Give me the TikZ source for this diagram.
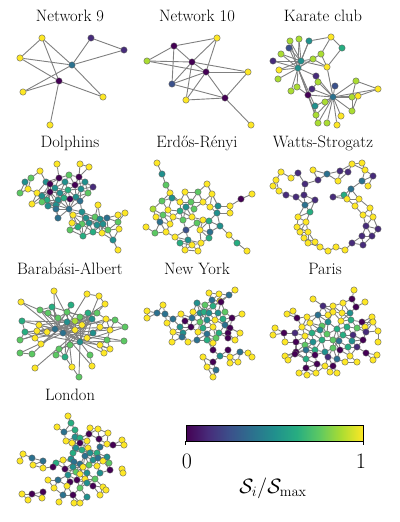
\documentclass[tikz,border=0pt]{standalone}
\usepackage{amsmath,amssymb}
\usepackage{xcolor}
\usepackage{tikz}
\definecolor{vpur}{RGB}{68,1,84}
\definecolor{vind}{RGB}{71,44,122}
\definecolor{vblu}{RGB}{59,81,139}
\definecolor{vste}{RGB}{44,113,142}
\definecolor{vtea}{RGB}{33,144,141}
\definecolor{vgrn}{RGB}{39,173,129}
\definecolor{vlgr}{RGB}{92,200,99}
\definecolor{vlim}{RGB}{170,220,50}
\definecolor{vyel}{RGB}{253,231,37}
\definecolor{linkgray}{RGB}{128,128,128}
\definecolor{rimgray}{RGB}{95,95,95}
\usetikzlibrary{positioning}
\pgfdeclarelayer{bg}
\pgfsetlayers{bg,main}
\pgfdeclarehorizontalshading{viridis}{100bp}{color(0bp)=(vpur); color(25bp)=(vpur);
  color(31.25bp)=(vind); color(37.5bp)=(vblu); color(43.75bp)=(vste); color(50bp)=(vtea);
  color(56.25bp)=(vgrn); color(62.5bp)=(vlgr); color(68.75bp)=(vlim); color(75bp)=(vyel);
  color(100bp)=(vyel)}
\tikzset{
  vtx/.style={circle, draw=rimgray, line width=0.4pt, inner sep=0pt, minimum size=6.4pt},
  link/.style={draw=linkgray, line width=0.9pt},
  title/.style={anchor=base, font=\fontsize{16.5}{20}\selectfont},
  cbar/.style={draw=black, line width=0.8pt, shading=viridis, minimum width=177pt, minimum height=16pt, inner sep=0pt},
}
\newcommand{\netnodes}[2]{%
  \foreach \x/\y/\clr [count=\i] in #2 {\node[vtx, fill=\clr] (#1-\i) at (\x,\y) {};}}
\newcommand{\netlinks}[3]{%
  \begin{pgfonlayer}{bg}
  \foreach \x/\y/\clr [count=\i] in #2 {
    \foreach \xb/\yb/\tone [count=\j] in #2 {
      \ifnum\j>\i
        \pgfmathsetmacro{\dlen}{veclen(\xb-\x,\yb-\y)}
        \ifdim\dlen pt<#3pt \draw[link] (#1-\i) -- (#1-\j);\fi
      \fi
    }
  }
  \end{pgfonlayer}}

\def\karate{290/41/vlim, 299/39/vlim, 309/41/vtea, 331/37/vyel, 289/48/vblu, 281/54/vlim, 342/48/vgrn, 321/54/vlim, 273/61/vind, 301/61/vtea, 313/59/vlim, 298/68/vtea, 279/70/vyel, 327/67/vyel, 316/76/vind, 278/79/vlim, 318/82/vlim, 335/86/vblu, 356/81/vlim, 297/87/vlim, 312/89/vind, 291/91/vlim, 378/89/vyel, 333/97/vste, 352/97/vlim, 358/96/vyel, 308/95/vpur, 325/102/vlim, 315/106/vtea, 352/111/vlim, 316/115/vlim, 341/116/vyel, 318/123/vlim, 327/123/vlim, 337/125/vyel}
\def\dolphins{57/164/vyel, 80/164/vyel, 89/167/vyel, 40/171/vyel, 25/182/vtea, 31/178/vlgr, 46/182/vtea, 59/178/vpur, 69/175/vlgr, 79/177/vpur, 50/184/vpur, 65/182/vtea, 75/185/vpur, 85/182/vtea, 93/187/vind, 28/189/vyel, 20/193/vlgr, 37/193/vyel, 50/192/vpur, 55/188/vtea, 60/193/vtea, 68/190/vgrn, 81/189/vtea, 88/193/vlgr, 42/196/vtea, 47/200/vgrn, 58/200/vtea, 64/198/vgrn, 70/199/vpur, 76/197/vtea, 32/204/vyel, 42/202/vlgr, 56/205/vtea, 48/206/vtea, 80/201/vste, 98/205/vyel, 56/209/vste, 69/209/vste, 82/212/vtea, 58/218/vste, 73/215/vyel, 86/218/vtea, 95/217/vlgr, 100/219/vtea, 107/218/vste, 118/215/vyel, 125/213/vyel, 72/223/vyel, 82/224/vlgr, 89/223/vtea, 97/225/vtea, 103/224/vtea, 118/222/vlgr, 70/230/vlgr, 78/227/vgrn, 93/232/vgrn, 108/230/vlgr, 119/229/vyel, 83/236/vgrn, 102/233/vyel, 113/240/vtea, 118/250/vyel}
\def\erdos{157/163/vyel, 162/174/vtea, 166/185/vlgr, 170/193/vyel, 207/184/vyel, 185/192/vyel, 198/192/vlgr, 212/194/vyel, 162/201/vlgr, 172/198/vtea, 180/202/vyel, 191/202/vlgr, 203/202/vyel, 252/194/vyel, 241/199/vpur, 153/209/vlim, 168/210/vyel, 180/211/vgrn, 186/207/vtea, 194/209/vlgr, 210/207/vyel, 218/206/vtea, 230/206/vyel, 156/217/vyel, 163/215/vlgr, 173/217/vyel, 183/220/vlgr, 192/217/vyel, 203/220/vyel, 217/213/vtea, 230/213/vyel, 146/227/vyel, 160/222/vste, 170/224/vyel, 197/223/vlgr, 209/221/vgrn, 220/226/vtea, 155/233/vlgr, 166/232/vyel, 186/230/vblu, 200/230/vyel, 210/232/vste, 229/235/vyel, 175/237/vyel, 188/240/vtea, 209/238/vgrn, 180/243/vgrn, 192/245/vyel, 201/243/vyel, 237/243/vgrn, 185/250/vyel, 198/251/vyel, 247/251/vyel}
\def\watts{281/172/vyel, 276/180/vyel, 273/186/vyel, 279/191/vyel, 291/178/vyel, 298/173/vind, 286/195/vind, 296/197/vind, 305/184/vind, 304/195/vind, 313/170/vyel, 318/180/vind, 327/174/vste, 315/200/vind, 305/205/vste, 310/212/vgrn, 340/171/vind, 338/181/vyel, 348/172/vind, 352/164/vyel, 362/163/vyel, 365/170/vyel, 373/176/vind, 362/181/vste, 368/186/vyel, 351/189/vste, 344/195/vgrn, 333/197/vind, 359/199/vyel, 347/199/vyel, 355/206/vyel, 370/208/vyel, 363/215/vyel, 373/217/vyel, 366/226/vind, 378/229/vind, 362/236/vind, 372/236/vind, 363/245/vind, 352/243/vind, 345/250/vyel, 336/247/vyel, 328/251/vyel, 320/247/vyel, 315/242/vyel, 308/243/vyel, 304/238/vyel, 300/232/vyel, 308/232/vyel, 297/227/vyel, 306/222/vyel, 298/217/vyel}
\def\barabasi{54/291/vyel, 87/294/vyel, 99/296/vyel, 21/302/vyel, 105/304/vyel, 52/307/vgrn, 71/305/vgrn, 40/310/vlgr, 48/313/vlgr, 67/312/vlgr, 88/313/vgrn, 97/313/vlgr, 58/318/vlgr, 80/317/vlgr, 22/321/vgrn, 39/325/vyel, 67/322/vtea, 75/321/vlim, 92/319/vtea, 106/319/vyel, 115/320/vlgr, 55/329/vste, 63/333/vste, 37/331/vyel, 82/325/vyel, 100/327/vyel, 25/332/vgrn, 47/332/vyel, 75/330/vyel, 93/333/vtea, 110/330/vyel, 125/327/vlgr, 20/340/vlgr, 35/338/vyel, 80/342/vtea, 87/338/vyel, 107/340/vlgr, 124/341/vlgr, 41/344/vyel, 59/349/vlgr, 70/345/vlgr, 100/345/vyel, 110/349/vyel, 20/353/vlgr, 32/354/vlgr, 56/355/vlgr, 65/357/vgrn, 90/355/vlgr, 104/353/vyel, 35/368/vyel, 72/367/vyel, 92/366/vyel, 79/377/vlgr}
\def\newyork{209/293/vyel, 219/294/vyel, 235/290/vyel, 229/295/vste, 212/300/vste, 220/301/vyel, 197/303/vtea, 205/305/vlgr, 213/306/vgrn, 221/302/vpur, 163/305/vyel, 157/313/vste, 147/311/vyel, 147/318/vyel, 165/314/vste, 181/314/vyel, 173/319/vste, 167/323/vyel, 193/312/vyel, 200/313/vtea, 204/312/vgrn, 209/313/vtea, 218/313/vtea, 225/312/vlgr, 242/314/vyel, 185/321/vpur, 192/318/vste, 200/322/vlgr, 207/320/vtea, 215/320/vyel, 223/319/vgrn, 232/318/vpur, 180/327/vtea, 191/327/vpur, 203/328/vgrn, 213/327/vyel, 225/325/vste, 230/328/vpur, 173/332/vyel, 183/333/vtea, 198/332/vyel, 207/334/vste, 219/333/vgrn, 228/333/vpur, 240/333/vyel, 182/337/vste, 197/340/vste, 207/340/vgrn, 216/338/vlgr, 228/338/vpur, 172/342/vyel, 188/342/vyel, 213/343/vyel, 235/340/vyel, 213/350/vpur, 228/350/vpur, 240/352/vste, 220/356/vtea, 230/357/vyel, 248/353/vyel, 252/357/vyel, 203/357/vyel, 213/362/vpur, 230/363/vyel, 238/362/vyel, 207/367/vyel, 216/370/vste, 213/377/vyel}
\def\paris{354/290/vyel, 352/299/vpur, 313/299/vyel, 323/306/vind, 333/306/vyel, 343/303/vyel, 365/302/vyel, 356/307/vpur, 333/312/vyel, 342/313/vyel, 318/315/vste, 328/315/vyel, 350/313/vtea, 293/311/vyel, 287/314/vyel, 297/318/vpur, 307/317/vyel, 328/322/vtea, 341/321/vyel, 351/320/vgrn, 362/322/vpur, 372/317/vyel, 373/322/vyel, 365/327/vyel, 310/323/vyel, 322/326/vlgr, 347/327/vgrn, 357/328/vlgr, 302/327/vyel, 320/330/vtea, 337/329/vgrn, 275/328/vyel, 273/335/vyel, 284/333/vpur, 295/333/vind, 312/333/vgrn, 305/336/vyel, 327/334/vlgr, 343/335/vgrn, 353/335/vind, 366/332/vind, 378/331/vyel, 296/342/vpur, 313/342/vtea, 322/340/vgrn, 333/340/vlgr, 339/341/vste, 352/341/vtea, 363/340/vpur, 378/342/vyel, 285/342/vyel, 305/345/vlgr, 333/348/vlgr, 348/347/vgrn, 357/347/vind, 296/352/vpur, 306/350/vste, 315/350/vgrn, 325/352/vtea, 340/350/vpur, 285/356/vyel, 295/354/vpur, 306/359/vgrn, 315/355/vpur, 328/357/vind, 337/359/vste, 350/356/vyel, 366/353/vpur, 377/355/vyel, 373/360/vyel, 288/360/vyel, 317/364/vpur, 325/366/vyel, 333/366/vpur, 345/362/vyel, 357/362/vyel, 306/368/vpur, 299/373/vyel, 307/375/vyel, 330/372/vyel, 337/373/vyel, 316/373/vyel}
\def\london{68/416/vyel, 71/423/vgrn, 57/427/vyel, 64/432/vste, 75/430/vgrn, 90/428/vyel, 98/429/vyel, 89/434/vpur, 108/433/vyel, 75/437/vtea, 80/438/vgrn, 66/441/vyel, 72/443/vyel, 80/443/vpur, 87/441/vyel, 99/439/vpur, 100/447/vste, 107/444/vyel, 113/445/vpur, 122/440/vyel, 124/445/vyel, 76/448/vtea, 82/450/vgrn, 88/448/vyel, 73/453/vgrn, 90/453/vtea, 97/453/vgrn, 107/457/vtea, 23/454/vyel, 20/461/vyel, 32/458/vste, 43/461/vste, 56/463/vgrn, 63/460/vyel, 71/459/vtea, 74/462/vste, 80/464/vste, 85/456/vste, 93/460/vtea, 98/458/vste, 103/461/vyel, 109/463/vlgr, 33/465/vyel, 43/468/vyel, 53/467/vpur, 65/469/vpur, 73/467/vtea, 83/467/vyel, 89/465/vlgr, 97/466/vyel, 110/470/vpur, 122/469/vyel, 123/473/vyel, 76/472/vlgr, 87/473/vtea, 100/473/vtea, 68/475/vtea, 80/474/vyel, 48/480/vyel, 58/480/vste, 70/482/vpur, 77/480/vpur, 85/479/vyel, 95/479/vlgr, 67/486/vyel, 80/488/vlgr, 87/483/vtea, 93/486/vpur, 103/487/vyel, 106/490/vyel, 100/495/vyel, 54/488/vyel, 43/492/vpur, 32/494/vpur, 22/494/vyel, 28/500/vyel, 42/498/vyel, 63/495/vste, 73/495/vpur, 87/497/vtea, 59/502/vyel, 74/503/vyel, 80/503/vyel}

\begin{document}
\begin{tikzpicture}[x=1pt, y=-1pt]
\useasboundingbox (0,0) rectangle (399,522);

% titles
\foreach \name/\cx/\by in {Network 9/70/21.5, Network 10/197/21.5, Karate club/323/21.5,
    Dolphins/70/147.8, Erdős-Rényi/197/147.8, Watts-Strogatz/323/147.8,
    Barabási-Albert/70/274.2, New York/197/274.2, Paris/325/274.2, London/70/400.6}
  \node[title] at (\cx,\by) {\name};

% network 9
\foreach \n/\x/\y/\clr in {a/42/38/vyel, b/20/58/vyel, c/72/65/vste, d/59/81/vpur, e/23/92/vyel,
    f/103/97/vyel, g/50/125/vyel, h/91/38/vind, i/124/50/vind}
  \node[vtx, fill=\clr] (nine-\n) at (\x,\y) {};
\begin{pgfonlayer}{bg}
\foreach \a/\b in {a/b, a/c, a/d, b/c, b/d, c/e, c/f, c/h, c/i, d/e, d/f, d/g, h/i}
  \draw[link] (nine-\a) -- (nine-\b);
\end{pgfonlayer}

% network 10
\foreach \n/\x/\y/\clr in {a/174/46/vpur, b/217/38/vyel, c/147/61/vlim, d/192/62/vpur, e/206/72/vpur,
    f/248/72/vyel, g/172/84/vblu, h/186/100/vyel, i/225/98/vpur, j/251/125/vyel}
  \node[vtx, fill=\clr] (ten-\n) at (\x,\y) {};
\begin{pgfonlayer}{bg}
\foreach \a/\b in {a/b, a/c, a/d, a/g, b/d, b/e, c/d, c/e, d/e, d/f, d/g, d/h, e/f, e/g,
    e/h, e/i, f/i, g/i, h/i, i/j}
  \draw[link] (ten-\a) -- (ten-\b);
\end{pgfonlayer}

% karate club
\netnodes{kar}{\karate}
\begin{pgfonlayer}{bg}
\foreach \a/\b in {12/1, 12/2, 12/3, 12/5, 12/6, 12/9, 12/10, 12/11, 12/13, 12/16, 12/20, 12/22,
    12/8, 12/15, 12/27, 12/29, 12/31, 12/33, 10/1, 10/2, 10/3, 10/5, 10/6, 10/9, 10/11, 10/13,
    10/14, 24/14, 24/15, 24/17, 24/18, 24/19, 24/21, 24/23, 24/25, 24/26, 24/27, 24/28, 24/29,
    24/30, 24/31, 24/32, 24/33, 24/34, 24/35, 3/4, 4/7, 4/8, 7/14, 19/23, 23/26, 19/25, 25/30,
    26/30, 11/14, 8/14, 20/27, 17/21, 15/17, 29/31}
  \draw[link] (kar-\a) -- (kar-\b);
\end{pgfonlayer}

% larger graphs
\netnodes{dol}{\dolphins}
\netlinks{dol}{\dolphins}{14.5}
\netnodes{er}{\erdos}
\netlinks{er}{\erdos}{13.5}
\netnodes{ws}{\watts}
\netlinks{ws}{\watts}{15}
\netnodes{ba}{\barabasi}
\netlinks{ba}{\barabasi}{13}
\begin{pgfonlayer}{bg}
\foreach \a/\b in {22/4, 22/8, 22/15, 22/16, 22/24, 22/27, 22/33, 22/38, 22/32, 22/21, 22/12,
    22/7, 22/10, 22/1, 23/2, 23/5, 23/20, 23/31, 23/37, 23/43, 23/49, 23/52, 23/6, 23/9, 23/34,
    23/44, 35/1, 35/3, 35/11, 35/14, 35/17, 35/26, 35/32, 35/38, 35/40, 35/42, 35/48, 35/53,
    35/8, 35/27, 19/6, 19/10, 19/16, 19/24, 19/28, 19/33, 19/46, 19/50, 19/41, 19/36, 17/4,
    17/15, 17/45, 17/39, 17/47, 17/51, 17/29}
  \draw[link] (ba-\a) -- (ba-\b);
\end{pgfonlayer}
\netnodes{ny}{\newyork}
\netlinks{ny}{\newyork}{12}
\netnodes{par}{\paris}
\netlinks{par}{\paris}{12.5}
\netnodes{lon}{\london}
\netlinks{lon}{\london}{11.5}

% colour bar
\node[cbar] (bar) at (274.5,433) {};
\draw[line width=0.8pt] (bar.south west) -- ++(0,4);
\draw[line width=0.8pt] (bar.south east) -- ++(0,4);
\node[anchor=base, font=\fontsize{22}{26}\selectfont] (lo) at (187,468) {0};
\node[anchor=base, font=\fontsize{22}{26}\selectfont] (hi) at (361,468) {1};
\node[anchor=base, font=\fontsize{22}{26}\selectfont] (lbl) at (273,493) {$\mathcal{S}_i/\mathcal{S}_{\max}$};
\end{tikzpicture}
\end{document}
